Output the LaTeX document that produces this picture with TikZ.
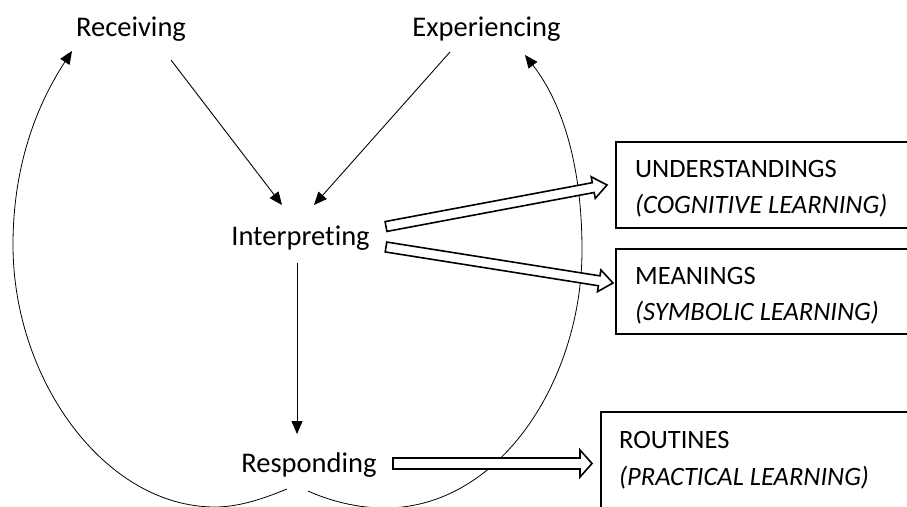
\documentclass[tikz,border=0pt]{standalone}
\usepackage{fontspec}
\setmainfont[Ligatures=NoCommon]{Carlito}
\usetikzlibrary{arrows.meta,calc}
\tikzset{
  lbl/.style={font=\fontsize{28.5}{34}\selectfont, inner sep=0pt, anchor=base},
  boxtxt/.style={font=\fontsize{26.5}{32}\selectfont, inner sep=0pt, anchor=base west},
  thin/.style={line width=0.9pt, -{Triangle[length=13pt,width=11pt]}},
  loop/.style={line width=0.8pt, -{Triangle[length=13pt,width=11pt]}},
  blockline/.style={line width=1.6pt, fill=white, line join=miter},
  boxline/.style={line width=1.8pt, draw}
}
\newcommand{\blockarrow}[5]{% tail, tip, shaft half width, head half width, head length
  \coordinate (neck) at ($(#2)!#5!(#1)$);
  \draw[blockline] ($(#1)!#3!90:(#2)$) -- ($(neck)!#3!90:(#2)$) -- ($(neck)!#4!90:(#2)$) -- (#2)
     -- ($(neck)!#4!-90:(#2)$) -- ($(neck)!#3!-90:(#2)$) -- ($(#1)!#3!-90:(#2)$) -- cycle;
}
\begin{document}
\begin{tikzpicture}[x=1pt,y=-1pt]
\useasboundingbox (0,0) rectangle (907,506);
\fill[white] (0,0) rectangle (907,506);
\clip (0,0) rectangle (907,506);

% labels
\node[lbl] (rec) at (131,36) {Receiving};
\node[lbl] (exp) at (486.5,36) {Experiencing};
\node[lbl] (int) at (300.5,245) {Interpreting};
\node[lbl] (res) at (309,472) {Responding};

% boxes
\draw[boxline] (616,142) rectangle (915,228);
\draw[boxline] (616,249) rectangle (915,334);
\draw[boxline] (601,412) rectangle (915,512);
\node[boxtxt] (und1) at (635,177) {UNDERSTANDINGS};
\node[boxtxt] (und2) at (635,213) {\itshape (COGNITIVE LEARNING)};
\node[boxtxt] (mea1) at (635,284) {MEANINGS};
\node[boxtxt] (mea2) at (635,320) {\itshape (SYMBOLIC LEARNING)};
\node[boxtxt] (rou1) at (619,448) {ROUTINES};
\node[boxtxt] (rou2) at (619,485) {\itshape (PRACTICAL LEARNING)};

% connector end points
\coordinate (r1) at (171,60);  \coordinate (r2) at (282,205);
\coordinate (e1) at (450,52);  \coordinate (e2) at (314,205);
\coordinate (i1) at (297,263); \coordinate (i2) at (297,434);

\draw[thin] (r1) -- (r2);
\draw[thin] (e1) -- (e2);
\draw[thin] (i1) -- (i2);

% loops
\coordinate (ls) at (287,489); \coordinate (lt) at (72,51);
\coordinate (rs) at (308,491); \coordinate (rt) at (525,55);
\draw[loop] (ls) .. controls (265,498) and (240,507) .. (215,507)
  .. controls (105,507) and (13,380) .. (13,245)
  .. controls (13,160) and (40,100) .. (lt);
\draw[loop] (rs) .. controls (328,500) and (355,508) .. (385,508)
  .. controls (500,508) and (582,380) .. (582,250)
  .. controls (582,160) and (560,100) .. (rt);

% block arrows
\coordinate (ua) at (386,226.5); \coordinate (ub) at (607,185);
\coordinate (ma) at (386,247);   \coordinate (mb) at (613,283);
\coordinate (ra) at (393,463.5); \coordinate (rb) at (592,463.5);
\blockarrow{ua}{ub}{5pt}{11pt}{14pt}
\blockarrow{ma}{mb}{5pt}{11pt}{14pt}
\blockarrow{ra}{rb}{5.5pt}{13.5pt}{12pt}
\end{tikzpicture}
\end{document}
